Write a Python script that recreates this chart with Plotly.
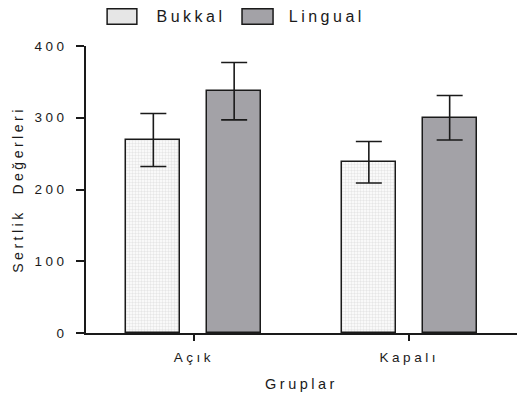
import plotly.graph_objects as go

categories = ["Açık", "Kapalı"]
bukkal = [269, 238]
bukkal_err = [37, 29]
lingual = [337, 300]
lingual_err = [40, 31]
series_names = ["Bukkal", "Lingual"]

font = "Liberation Sans, Arial, sans-serif"
ink = "#1a1a1a"
lingual_color = "#a3a2a7"

fig = go.Figure()
fig.add_trace(go.Bar(
    name=series_names[0], x=categories, y=bukkal,
    width=0.25, offset=-0.3125, showlegend=False,
    marker=dict(color="white", line=dict(color=ink, width=1.5),
                pattern=dict(shape=".", fgcolor="#cdcdcd", bgcolor="white", size=3, solidity=0.5)),
    error_y=dict(type="data", array=bukkal_err, color=ink, thickness=1.6, width=13),
))
fig.add_trace(go.Bar(
    name=series_names[1], x=categories, y=lingual,
    width=0.25, offset=0.0625, showlegend=False,
    marker=dict(color=lingual_color, line=dict(color=ink, width=1.5)),
    error_y=dict(type="data", array=lingual_err, color=ink, thickness=1.6, width=13),
))

# Manual legend (large swatches like the original)
swatches = [
    dict(x0=0.049, x1=0.118, fill="#e6e6e6", tx=0.183),
    dict(x0=0.362, x1=0.434, fill=lingual_color, tx=0.495),
]
for s, name in zip(swatches, series_names):
    fig.add_shape(type="rect", xref="paper", yref="paper",
                  x0=s["x0"], x1=s["x1"], y0=1.076, y1=1.130,
                  fillcolor=s["fill"], line=dict(color=ink, width=1.5))
    fig.add_annotation(text=name, xref="paper", yref="paper", x=s["tx"], y=1.103,
                       xanchor="left", yanchor="middle", showarrow=False,
                       font=dict(size=16, color=ink, family=font))

fig.update_layout(
    width=525, height=401,
    margin=dict(l=78, r=16, t=38, b=76, autoexpand=False),
    paper_bgcolor="white", plot_bgcolor="rgba(0,0,0,0)",
    font=dict(family=font, size=13, color=ink),
    showlegend=False,
    bargap=0,
    xaxis=dict(range=[-0.5, 1.5], showline=True, linecolor=ink, linewidth=1.5,
               ticks="outside", ticklen=6, tickwidth=1.5, tickcolor=ink,
               showgrid=False, zeroline=False, tickfont=dict(size=13.5),
               automargin=False, ticklabelstandoff=5,
               title=dict(text="Gruplar", font=dict(size=14.5), standoff=15)),
    yaxis=dict(range=[0, 400], tickvals=[0, 100, 200, 300, 400], showline=True,
               linecolor=ink, linewidth=1.5, ticks="outside", ticklen=8,
               tickwidth=1.5, tickcolor=ink, showgrid=False, zeroline=False,
               tickfont=dict(size=13.5), automargin=False, ticklabelstandoff=6,
               title=dict(text="Sertlik  Değerleri", font=dict(size=14), standoff=18)),
)

post = """
var gd = document.getElementById('{plot_id}');
gd.querySelectorAll('text').forEach(function(t){ t.setAttribute('letter-spacing', '3.5px'); });
"""
fig.write_html("out.html", post_script=post)
